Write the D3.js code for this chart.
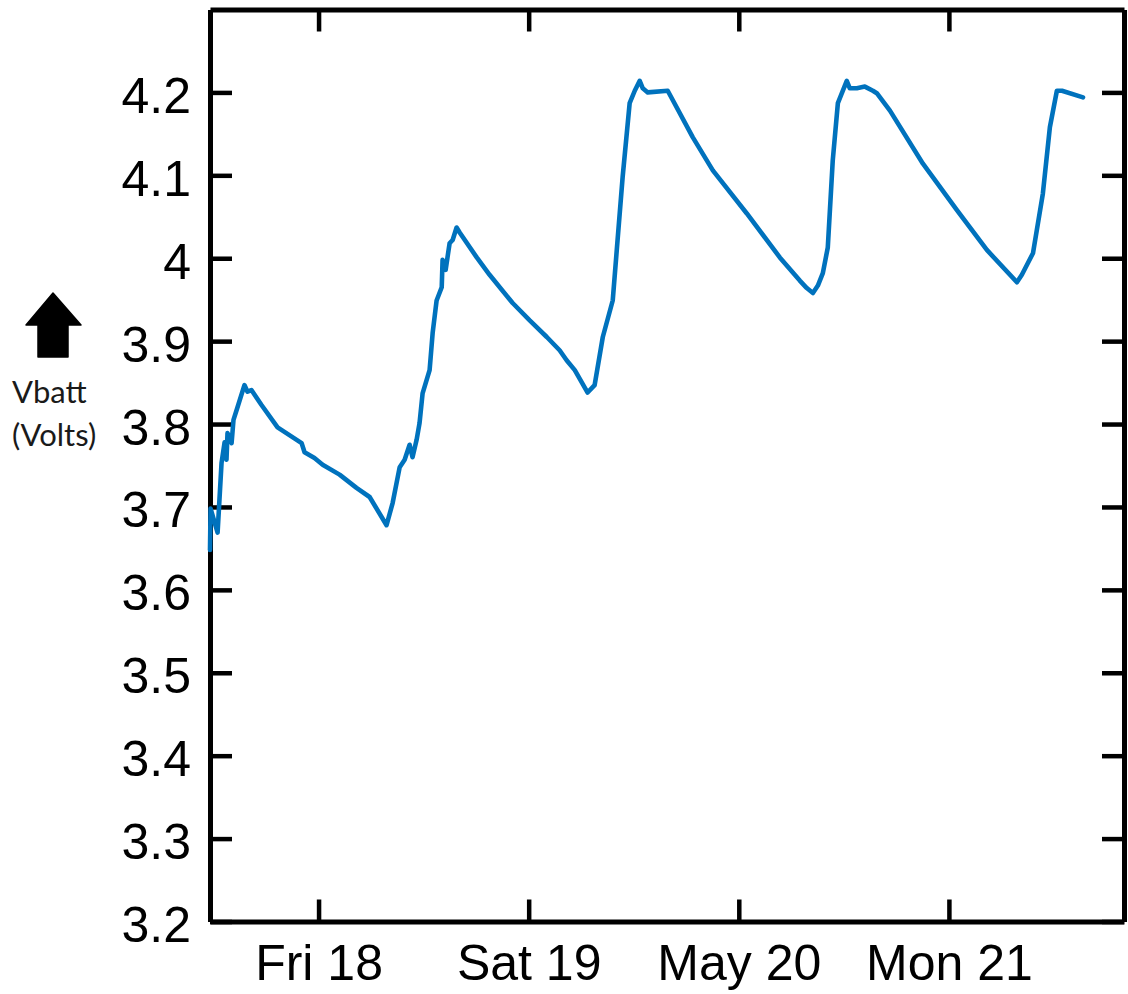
<!DOCTYPE html>
<html>
<head>
<meta charset="utf-8">
<script src="https://cdn.jsdelivr.net/npm/d3@7"></script>
<style>
  html, body { margin: 0; padding: 0; background: #fff; }
  svg { display: block; }
</style>
</head>
<body>
<svg id="chart" width="1128" height="994"></svg>
<script>
// ---- data ----
const times = [
  "2018-05-17T11:36","2018-05-17T11:40","2018-05-17T12:28","2018-05-17T12:55","2018-05-17T13:16",
  "2018-05-17T13:29","2018-05-17T13:36","2018-05-17T14:04","2018-05-17T14:17","2018-05-17T14:44",
  "2018-05-17T15:32","2018-05-17T15:53","2018-05-17T16:20","2018-05-17T17:29","2018-05-17T19:19",
  "2018-05-17T22:04","2018-05-17T22:24","2018-05-17T23:32",
  "2018-05-18T00:28","2018-05-18T02:24","2018-05-18T04:20","2018-05-18T05:50","2018-05-18T07:46",
  "2018-05-18T08:28","2018-05-18T09:16","2018-05-18T09:50","2018-05-18T10:24","2018-05-18T10:44",
  "2018-05-18T11:12","2018-05-18T11:32","2018-05-18T11:53","2018-05-18T12:41","2018-05-18T13:02",
  "2018-05-18T13:29","2018-05-18T14:04","2018-05-18T14:10","2018-05-18T14:31","2018-05-18T14:58",
  "2018-05-18T15:19","2018-05-18T15:46","2018-05-18T16:07","2018-05-18T18:04","2018-05-18T19:32",
  "2018-05-18T22:10","2018-05-19T00:07","2018-05-19T02:04","2018-05-19T03:32","2018-05-19T04:20",
  "2018-05-19T05:16","2018-05-19T06:44","2018-05-19T07:32","2018-05-19T08:28","2018-05-19T09:36",
  "2018-05-19T10:44","2018-05-19T11:32","2018-05-19T12:07","2018-05-19T12:41","2018-05-19T13:02",
  "2018-05-19T13:36","2018-05-19T15:53","2018-05-19T18:44","2018-05-19T21:02","2018-05-20T00:55",
  "2018-05-20T04:41","2018-05-20T06:58","2018-05-20T07:46","2018-05-20T08:28","2018-05-20T09:02",
  "2018-05-20T09:36","2018-05-20T10:10","2018-05-20T10:44","2018-05-20T11:19","2018-05-20T12:20",
  "2018-05-20T12:41","2018-05-20T13:29","2018-05-20T14:24","2018-05-20T15:19","2018-05-20T15:46",
  "2018-05-20T17:16","2018-05-20T21:02","2018-05-21T00:55","2018-05-21T04:20","2018-05-21T07:46",
  "2018-05-21T08:20","2018-05-21T09:36","2018-05-21T10:44","2018-05-21T11:32","2018-05-21T12:20",
  "2018-05-21T12:55","2018-05-21T15:19"
];
const vbatt = [
  3.648,3.698,3.669,3.753,3.778,
  3.757,3.789,3.777,3.805,3.820,
  3.847,3.839,3.841,3.823,3.796,
  3.777,3.766,3.759,
  3.751,3.739,3.723,3.712,3.678,
  3.705,3.748,3.757,3.775,3.760,
  3.781,3.801,3.837,3.865,3.910,
  3.949,3.965,3.998,3.986,4.018,
  4.022,4.037,4.031,4.001,3.980,
  3.946,3.925,3.905,3.889,3.877,
  3.865,3.838,3.847,3.905,3.949,
  4.098,4.187,4.202,4.214,4.205,
  4.200,4.202,4.146,4.106,4.054,
  4.001,3.973,3.964,3.958,3.967,
  3.982,4.013,4.118,4.187,4.214,
  4.205,4.205,4.207,4.202,4.199,
  4.178,4.114,4.058,4.010,3.971,
  3.980,4.006,4.078,4.158,4.202,
  4.202,4.194
];
const yTickValues = [3.2,3.3,3.4,3.5,3.6,3.7,3.8,3.9,4.0,4.1,4.2];
const yTickLabels = ["3.2","3.3","3.4","3.5","3.6","3.7","3.8","3.9","4","4.1","4.2"];
const xDomain = ["2018-05-17T11:36","2018-05-21T20:00"];
const yDomain = [3.2, 4.3];
const yLabelLines = ["Vbatt","(Volts)"];

(function () {
  const svg = d3.select("#chart");
  const pLeft = 210, pRight = 1124, pTop = 9.5, pBottom = 921.5;
  const parse = d3.timeParse("%Y-%m-%dT%H:%M");
  const data = times.map((t, i) => ({ t: parse(t), v: vbatt[i] }));

  const x = d3.scaleTime().domain(xDomain.map(parse)).range([pLeft, pRight]);
  const y = d3.scaleLinear().domain(yDomain).range([pBottom, pTop]);

  const dayTicks = x.ticks(d3.timeDay.every(1));
  const tickLen = 22;
  const axisW = 5;
  const fontTick = "'Liberation Sans', Arial, sans-serif";

  function styleAxis(g) {
    g.selectAll(".domain").attr("stroke", "#000").attr("stroke-width", axisW);
    g.selectAll(".tick line").attr("stroke", "#000").attr("stroke-width", 4.5);
    g.selectAll(".tick text").attr("fill", "#000")
      .style("font-family", fontTick).style("font-size", "50px");
  }

  svg.append("g").attr("transform", `translate(0,${pBottom})`)
    .call(d3.axisBottom(x).tickValues(dayTicks).tickSizeInner(-tickLen).tickSizeOuter(0).tickPadding(23))
    .call(styleAxis)
    .call(g => g.selectAll(".tick text").attr("dy", "0.71em"));
  svg.append("g").attr("transform", `translate(0,${pTop})`)
    .call(d3.axisTop(x).tickValues(dayTicks).tickSizeInner(-tickLen).tickSizeOuter(0).tickFormat(""))
    .call(styleAxis);
  svg.append("g").attr("transform", `translate(${pLeft},0)`)
    .call(d3.axisLeft(y).tickValues(yTickValues).tickSizeInner(-tickLen).tickSizeOuter(0).tickPadding(19)
      .tickFormat((d, i) => yTickLabels[i]))
    .call(styleAxis)
    .call(g => g.selectAll(".tick text").attr("dy", "0.4em"));
  svg.append("g").attr("transform", `translate(${pRight},0)`)
    .call(d3.axisRight(y).tickValues(yTickValues).tickSizeInner(-tickLen).tickSizeOuter(0).tickFormat(""))
    .call(styleAxis);

  const line = d3.line().x(d => x(d.t)).y(d => y(d.v));
  svg.append("path").datum(data)
    .attr("fill", "none")
    .attr("stroke", "#0072BD")
    .attr("stroke-width", 4.6)
    .attr("stroke-linejoin", "round")
    .attr("stroke-linecap", "round")
    .attr("d", line);

  svg.append("path")
    .attr("d", "M53,293 L81,325 L68,325 L68,357 L38,357 L38,325 L26,325 Z")
    .attr("fill", "#000").attr("stroke", "#000").attr("stroke-width", 1.5).attr("stroke-linejoin", "round");
  svg.append("g").selectAll("text").data(yLabelLines).join("text")
    .attr("x", 12)
    .attr("y", (d, i) => 403 + i * 43)
    .attr("fill", "#1a1a1a")
    .style("font-family", "Lato, 'Open Sans', sans-serif")
    .style("font-size", "31px")
    .text(d => d);
})();
</script>
</body>
</html>
